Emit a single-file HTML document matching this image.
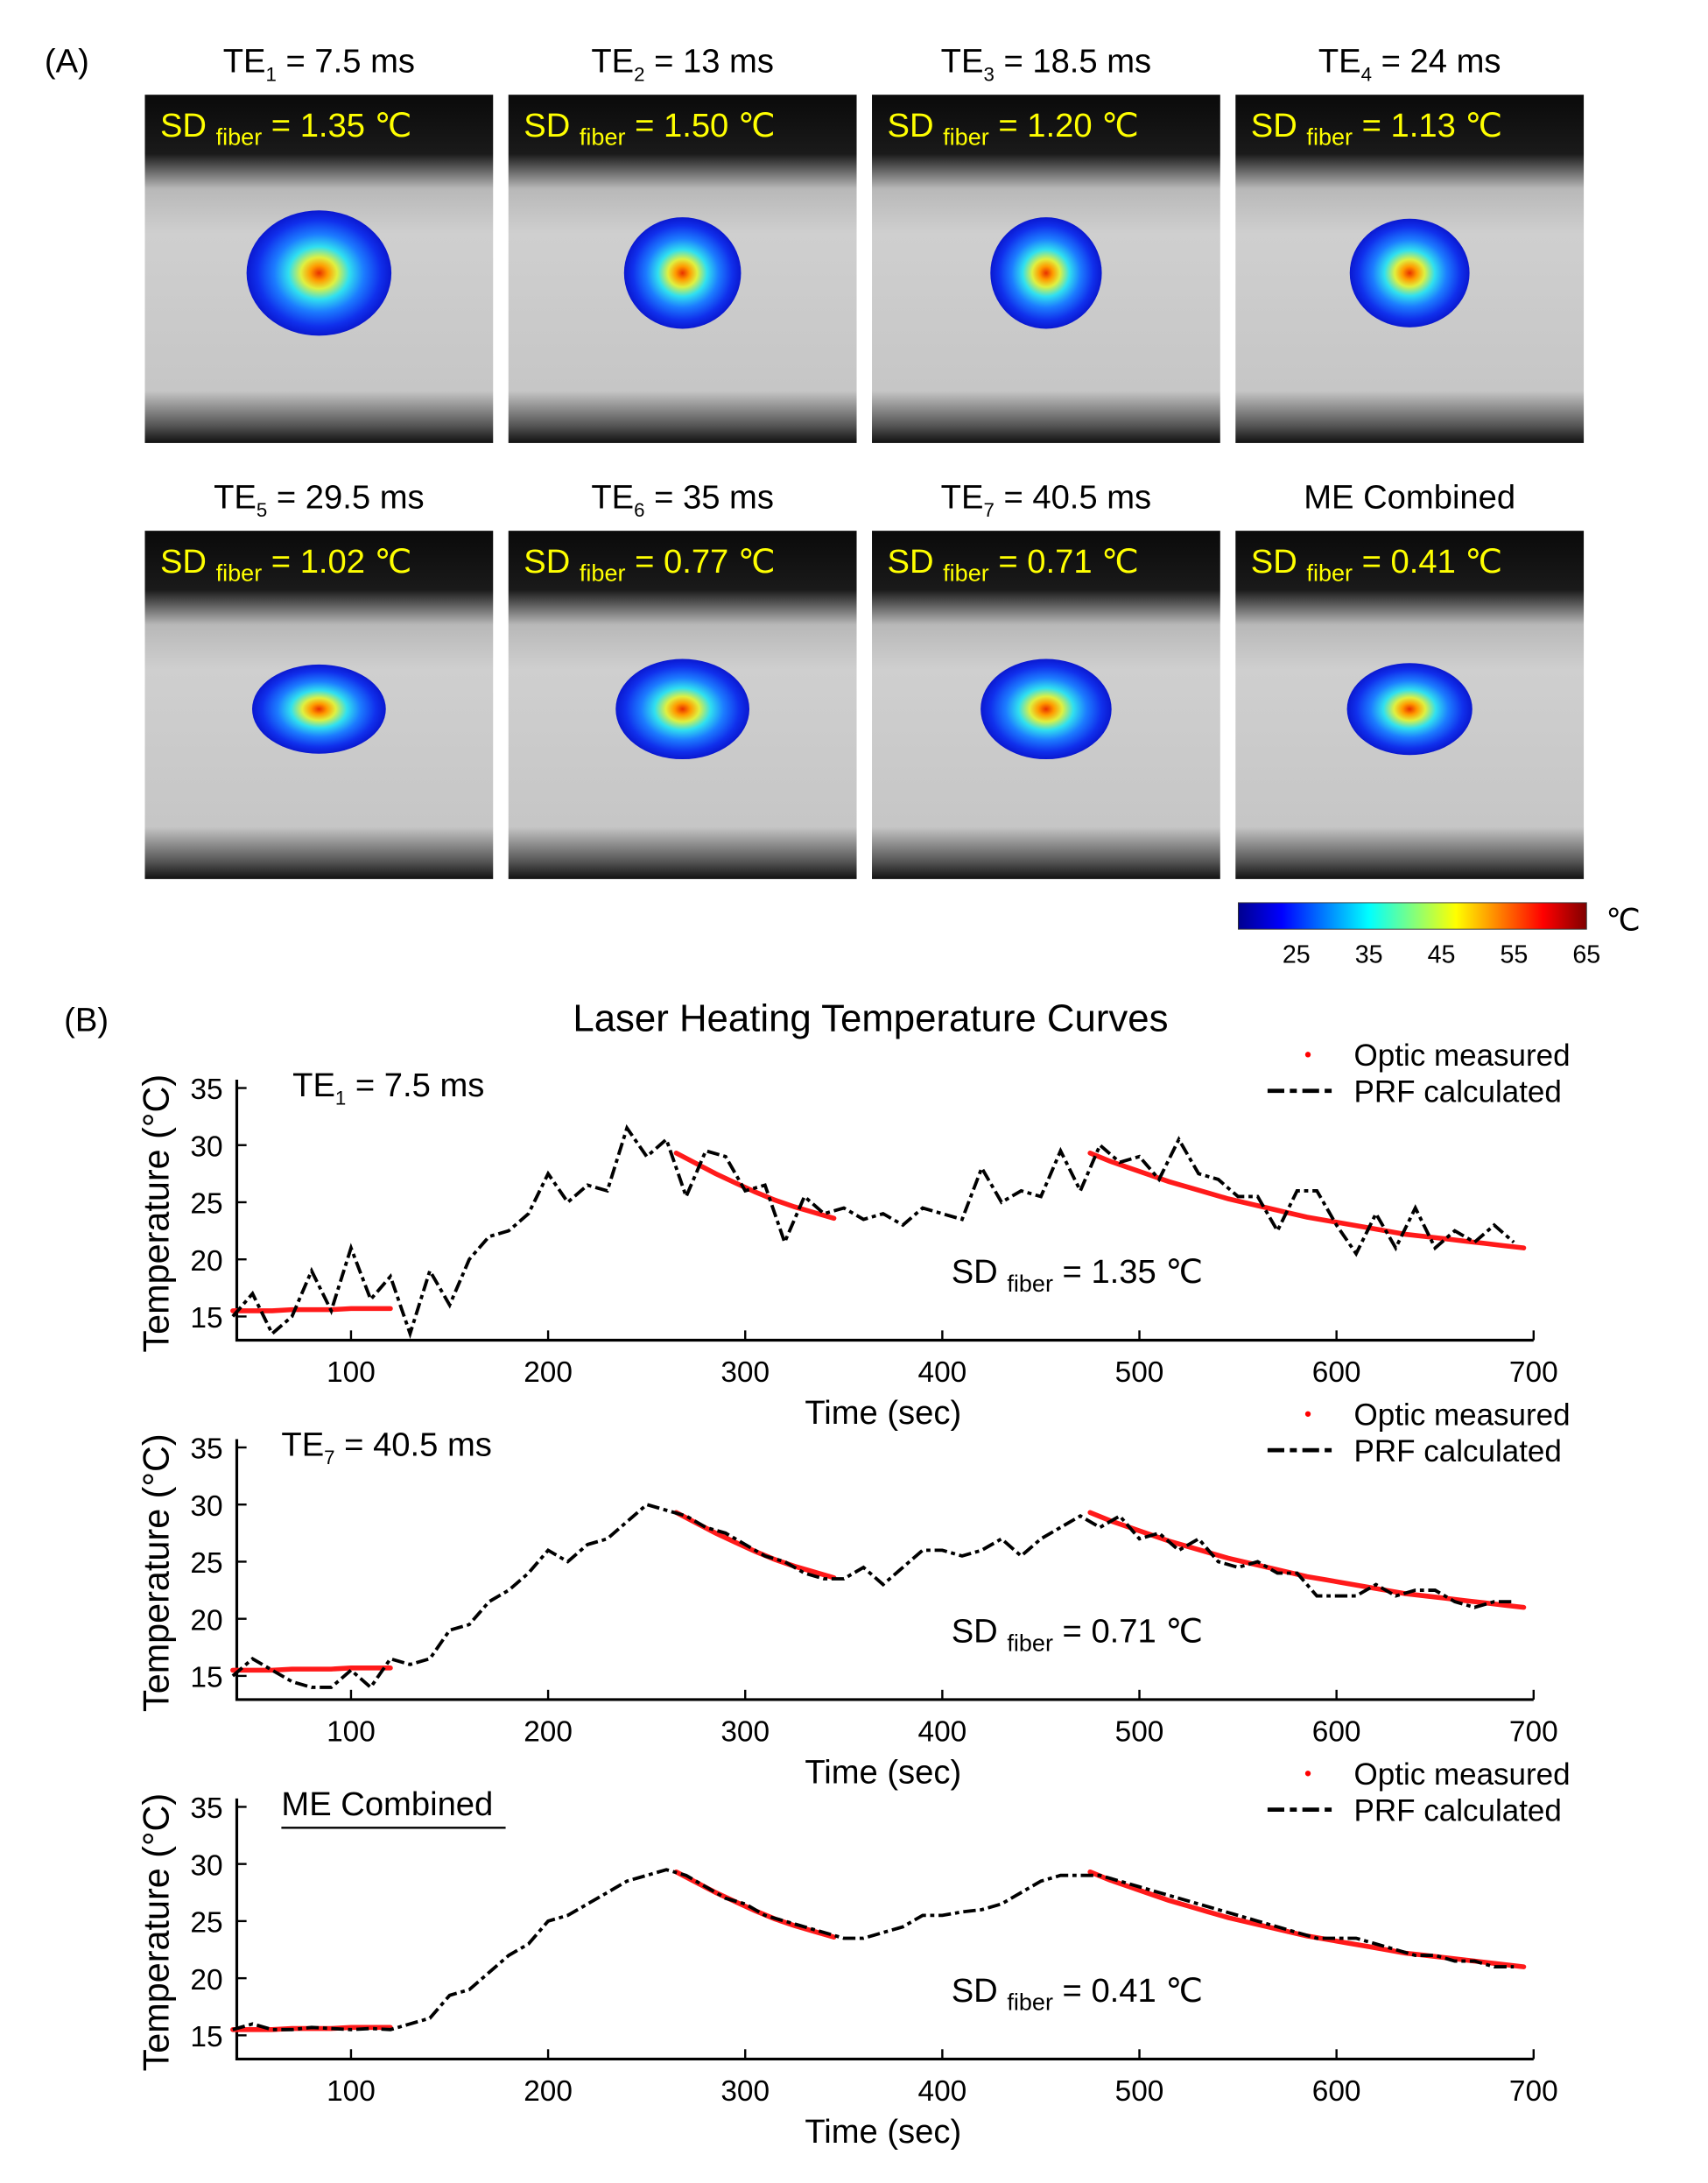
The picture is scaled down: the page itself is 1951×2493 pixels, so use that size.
<!DOCTYPE html>
<html><head><meta charset="utf-8"><style>
html,body{margin:0;padding:0;background:#fff;}
svg{display:block;font-family:"Liberation Sans",Arial,sans-serif;}
</style></head><body>
<svg id="fig" width="1951" height="2493" viewBox="0 0 1226.2 1567" preserveAspectRatio="none" xmlns="http://www.w3.org/2000/svg">
<defs>
<linearGradient id="bg" x1="0" y1="0" x2="0" y2="1">
<stop offset="0" stop-color="#0a0a0a"/><stop offset="0.17" stop-color="#1a1a1a"/>
<stop offset="0.27" stop-color="#b8b8b8"/><stop offset="0.4" stop-color="#cfcfcf"/>
<stop offset="0.85" stop-color="#c6c6c6"/><stop offset="0.95" stop-color="#555"/><stop offset="1" stop-color="#111"/>
</linearGradient>
<radialGradient id="blob" cx="0.5" cy="0.5" r="0.5">
<stop offset="0" stop-color="#e83000"/><stop offset="0.12" stop-color="#ff9a00"/>
<stop offset="0.25" stop-color="#e0f040"/><stop offset="0.42" stop-color="#30e0f0"/>
<stop offset="0.62" stop-color="#1c7cff"/><stop offset="0.85" stop-color="#1030ec"/><stop offset="1" stop-color="#0a18d0"/>
</radialGradient>
<linearGradient id="jet" x1="0" y1="0" x2="1" y2="0">
<stop offset="0" stop-color="#00008f"/><stop offset="0.125" stop-color="#0000ff"/>
<stop offset="0.375" stop-color="#00ffff"/><stop offset="0.625" stop-color="#ffff00"/>
<stop offset="0.875" stop-color="#ff0000"/><stop offset="1" stop-color="#800000"/>
</linearGradient>
</defs>
<text x="32" y="52" font-size="24">(A)</text>
<text x="46" y="740" font-size="24">(B)</text>
<text x="625" y="740" font-size="27.5" text-anchor="middle">Laser Heating Temperature Curves</text>
<g id="maps"></g>
<g id="cbar"></g>
<g id="plots"></g>
</svg>
<script>
// ---- chart data ----
const times = [40,50,60,70,80,90,100,110,120,130,140,150,160,170,180,190,200,210,220,230,240,250,260,270,280,290,300,310,320,330,340,350,360,370,380,390,400,410,420,430,440,450,460,470,480,490,500,510,520,530,540,550,560,570,580,590,600,610,620,630,640,650,660,670,680,690];
const prfTE1 = [15,17,13.5,15,19,15.5,21,16.5,18.5,13.5,19,16,20,22,22.5,24,27.5,25,26.5,26,31.5,29,30.5,25.5,29.5,29,26,26.5,21.5,25.5,24,24.5,23.5,24,23,24.5,24,23.5,28,25,26,25.5,29.5,26,30,28.5,29,27,30.5,27.5,27,25.5,25.5,22.5,26,26,23,20.5,24,21,24.5,21,22.5,21.5,23,21.5];
const prfTE7 = [15,16.5,15.5,14.5,14,14,15.5,14,16.5,16,16.5,19,19.5,21.5,22.5,24,26,25,26.5,27,28.5,30,29.5,29,28,27.5,26.5,25.5,25,24,23.5,23.5,24.5,23,24.5,26,26,25.5,26,27,25.5,27,28,29,28,29,27,27.5,26,27,25,24.5,25,24,24,22,22,22,23,22,22.5,22.5,21.5,21,21.5,21.5];
const prfME = [15.5,16,15.5,15.5,15.7,15.6,15.5,15.6,15.5,16,16.5,18.5,19,20.5,22,23,25,25.5,26.5,27.5,28.5,29,29.5,29,28,27,26.5,25.5,25,24.5,24,23.5,23.5,24,24.5,25.5,25.5,25.8,26,26.5,27.5,28.5,29,29,29,28.5,28,27.5,27,26.5,26,25.5,25,24.5,24,23.5,23.5,23.5,23,22.5,22,22,21.5,21.5,21,21];
const opticT1 = [40,50,60,70,80,90,100,110,120];
const opticV1 = [15.5,15.5,15.5,15.6,15.6,15.6,15.7,15.7,15.7];
const opticT2 = [265,275,285,295,305,315,325,335,345];
const opticV2 = [29.3,28.4,27.5,26.7,25.9,25.2,24.6,24.1,23.6];
const opticT3 = [475,485,495,505,515,525,535,545,555,565,575,585,595,605,615,625,635,645,655,665,675,685,695];
const opticV3 = [29.3,28.6,28.0,27.4,26.8,26.3,25.8,25.3,24.9,24.5,24.1,23.7,23.4,23.1,22.8,22.5,22.2,22.0,21.8,21.6,21.4,21.2,21.0];
const xTicks = [100,200,300,400,500,600,700];
const yTicks = [15,20,25,30,35];
const cbarTicks = [25,35,45,55,65];
const mapTitles = [["TE","1"," = 7.5 ms"],["TE","2"," = 13 ms"],["TE","3"," = 18.5 ms"],["TE","4"," = 24 ms"],["TE","5"," = 29.5 ms"],["TE","6"," = 35 ms"],["TE","7"," = 40.5 ms"],["ME Combined","",""]];
const mapSD = ["1.35","1.50","1.20","1.13","1.02","0.77","0.71","0.41"];

const NS="http://www.w3.org/2000/svg";
function mk(tag,attrs,parent){const e=document.createElementNS(NS,tag);for(const k in attrs)e.setAttribute(k,attrs[k]);parent.appendChild(e);return e;}

// ---- maps ----
const maps=document.getElementById('maps');
const colX=[104,365,626,887], rowY=[68,381];
const blobR=[[52,45],[42,40],[40,40],[43,39],[48,32],[48,36],[47,36],[45,33]];
for(let i=0;i<8;i++){
  const x=colX[i%4], y=rowY[Math.floor(i/4)];
  const g=mk('g',{},maps);
  
  
  mk('rect',{x:x,y:y,width:250,height:250,fill:'url(#bg)'},g);
  const b=mk('ellipse',{cx:x+125,cy:y+128,rx:blobR[i][0],ry:blobR[i][1],fill:'url(#blob)'},g);
  
  
  const t=mk('text',{x:x+125,y:y-16,'font-size':24,'text-anchor':'middle'},g);
  
  
  t.textContent=mapTitles[i][0];
  if(mapTitles[i][1]){const s=mk('tspan',{'font-size':14,dy:6},t);s.textContent=mapTitles[i][1];const r=mk('tspan',{dy:-6},t);r.textContent=mapTitles[i][2];}
  const sd=mk('text',{x:x+11,y:y+30,'font-size':24,fill:'#ffff00'},g);
  
  
  sd.textContent='SD ';
  const s1=mk('tspan',{'font-size':17,dy:6},sd);s1.textContent='fiber';
  const s2=mk('tspan',{dy:-6},sd);s2.textContent=' = '+mapSD[i]+' ℃';
}
// ---- colorbar ----
const cb=document.getElementById('cbar');
const cbL=889, cbR=1139, cbMin=17, cbMax=65;
mk('rect',{x:cbL,y:648,width:cbR-cbL,height:19,fill:'url(#jet)',stroke:'#333','stroke-width':0.6},cb);
const cx=v=>cbL+(v-cbMin)/(cbMax-cbMin)*(cbR-cbL);
cbarTicks.forEach(v=>{
  const t=mk('text',{x:cx(v),y:691,'font-size':18,'text-anchor':'middle'},cb);
  
  
  t.textContent=v;
});
const cu=mk('text',{x:1153,y:668,'font-size':22},cb);cu.textContent='℃';

// ---- plots ----
const plots=document.getElementById('plots');
const series=[prfTE1,prfTE7,prfME];
const labels=[["TE","1"," = 7.5 ms"],["TE","7"," = 40.5 ms"],["ME Combined","",""]];
const sds=["1.35","0.71","0.41"];
const bases=[781,1039,1297];
const X=t=>252+(t-100)*1.415;
for(let p=0;p<3;p++){
  const b=bases[p];
  const Y=v=>b+(35-v)*8.2;
  const bottom=b+181;
  const g=mk('g',{},plots);
  
  
  const ax=mk('path',{d:`M170 ${b-6} V${bottom} H1101`,fill:'none',stroke:'#000','stroke-width':2},g);
  
  
  xTicks.forEach(v=>{
    mk('line',{x1:X(v),x2:X(v),y1:bottom,y2:bottom-7,stroke:'#000','stroke-width':1.5},g);
    const t=mk('text',{x:X(v),y:bottom+30,'font-size':21,'text-anchor':'middle'},g);
    
    
    t.textContent=v;
  });
  yTicks.forEach(v=>{
    mk('line',{x1:170,x2:177,y1:Y(v),y2:Y(v),stroke:'#000','stroke-width':1.5},g);
    const t=mk('text',{x:160,y:Y(v)+8,'font-size':21,'text-anchor':'end'},g);
    
    
    t.textContent=v;
  });
  const xl=mk('text',{x:634,y:bottom+60,'font-size':24,'text-anchor':'middle'},g);
  
  
  xl.textContent='Time (sec)';
  const yl=mk('text',{x:0,y:0,'font-size':26,'text-anchor':'middle',transform:`translate(121 ${b+90}) rotate(-90)`},g);
  
  
  yl.textContent='Temperature (°C)';
  // optic segments
  [[opticT1,opticV1],[opticT2,opticV2],[opticT3,opticV3]].forEach(([ts,vs])=>{
    const d=ts.map((t,i)=>(i?'L':'M')+X(t).toFixed(1)+' '+Y(vs[i]).toFixed(1)).join(' ');
    const l=mk('path',{d:d,fill:'none',stroke:'#ff1a1a','stroke-width':3.5,'stroke-linecap':'round'},g);
    
    
  });
  const d=times.map((t,i)=>(i?'L':'M')+X(t).toFixed(1)+' '+Y(series[p][i]).toFixed(1)).join(' ');
  const l=mk('path',{d:d,fill:'none',stroke:'#000','stroke-width':2.4,'stroke-dasharray':'9 3 3 3'},g);
  
  
  // labels
  const te=mk('text',{x:p==0?210:202,y:b+6,'font-size':24},g);
  
  
  te.textContent=labels[p][0];
  if(labels[p][1]){const s=mk('tspan',{'font-size':14,dy:6},te);s.textContent=labels[p][1];const r=mk('tspan',{dy:-6},te);r.textContent=labels[p][2];}
  else{mk('line',{x1:202,x2:363,y1:b+15,y2:b+15,stroke:'#000','stroke-width':1.5},g);}
  const sd=mk('text',{x:683,y:b+140,'font-size':24},g);
  
  
  sd.textContent='SD ';
  const s1=mk('tspan',{'font-size':17,dy:6},sd);s1.textContent='fiber';
  const s2=mk('tspan',{dy:-6},sd);s2.textContent=' = '+sds[p]+' ℃';
  // legend
  const lg=mk('g',{},g);
  
  
  const ly=b-24;
  mk('circle',{cx:939,cy:ly,r:2,fill:'#ff0000'},lg);
  const t1=mk('text',{x:972,y:ly+8,'font-size':22},lg);t1.textContent='Optic measured';
  mk('line',{x1:910,x2:960,y1:ly+26,y2:ly+26,stroke:'#000','stroke-width':3,'stroke-dasharray':'12 4 5 4'},lg);
  const t2=mk('text',{x:972,y:ly+34,'font-size':22},lg);t2.textContent='PRF calculated';
}
</script>
</body></html>
